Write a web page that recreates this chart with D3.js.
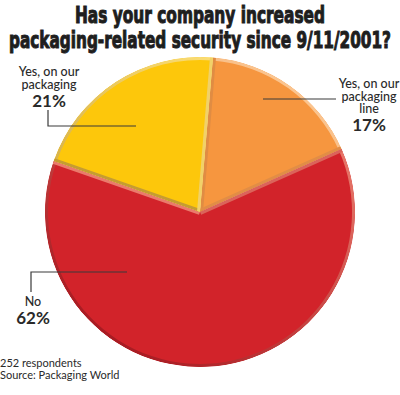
<!DOCTYPE html>
<html>
<head>
<meta charset="utf-8">
<script src="https://cdn.jsdelivr.net/npm/d3@7"></script>
<style>
  body { margin: 0; background: #fff; }
  svg { display: block; }
</style>
</head>
<body>
<svg id="chart" width="400" height="395"></svg>
<script>
// survey answers, clockwise from the top
const categories = ["Yes, on our packaging line", "No", "Yes, on our packaging"];
const values = [17, 62, 21];
const labelLines = [["Yes, on our", "packaging", "line"], ["No"], ["Yes, on our", "packaging"]];
const percentLabels = ["17%", "62%", "21%"];
const titleLines = ["Has your company increased", "packaging-related security since 9/11/2001?"];
const footnotes = ["252 respondents", "Source: Packaging World"];

// look
const baseColors = ["#f6963f", "#d2232a", "#fdc70b"];
const lightColors = ["#fbc590", "#ec7d6e", "#ffe27a"];
const darkColors = ["#d87a2c", "#a81b22", "#c49a30"];

const width = 400, height = 395;
const cx = 200, cy = 212, r = 155;
const start = 4.8 * Math.PI / 180;
const bevel = 3;
const lightDir = [0.6, -0.8];

// annotation layout: text anchor, leader line points (relative to pie center)
const annot = [
  { x: 369, y: 88, lead: [[136, -113], [63, -113]] },
  { x: 33, y: 306, lead: [[-169, 80], [-169, 60], [-73, 60]] },
  { x: 49, y: 76, lead: [[-152, -102], [-152, -86], [-64, -86]] }
];

const svg = d3.select("#chart");
const defs = svg.append("defs");

// title
svg.append("g").selectAll("text")
  .data(titleLines)
  .join("text")
  .attr("x", width / 2)
  .attr("y", (d, i) => 23 + i * 25)
  .attr("text-anchor", "middle")
  .attr("textLength", (d, i) => i == 0 ? 250 : 382)
  .attr("lengthAdjust", "spacingAndGlyphs")
  .style("font-family", "'Liberation Sans Narrow', 'DejaVu Sans Condensed', sans-serif")
  .style("font-weight", "bold")
  .style("font-size", "23px")
  .style("fill", "#1e1e1e")
  .style("stroke", "#1e1e1e")
  .style("stroke-width", 1)
  .text(d => d);

const pie = d3.pie().sort(null).value(d => d)
  .startAngle(start).endAngle(start + 2 * Math.PI);
const arcs = pie(values);
const arc = d3.arc().innerRadius(0).outerRadius(r);
const rim = d3.arc().innerRadius(r - bevel).outerRadius(r);

const shade = (i, nx, ny) => {
  const t = (nx * lightDir[0] + ny * lightDir[1] + 1) / 2;
  return d3.interpolateRgb(darkColors[i], lightColors[i])(t);
};

const pieG = svg.append("g").attr("transform", `translate(${cx},${cy})`);

arcs.forEach((a, i) => {
  defs.append("clipPath").attr("id", "clip" + i)
    .append("path").attr("d", arc(a));

  const grad = defs.append("linearGradient").attr("id", "rim" + i)
    .attr("gradientUnits", "userSpaceOnUse")
    .attr("x1", -r * lightDir[0]).attr("y1", -r * lightDir[1])
    .attr("x2", r * lightDir[0]).attr("y2", r * lightDir[1]);
  grad.append("stop").attr("offset", 0).attr("stop-color", darkColors[i]);
  grad.append("stop").attr("offset", 1).attr("stop-color", lightColors[i]);

  const g = pieG.append("g").attr("clip-path", `url(#clip${i})`);
  g.append("path").attr("d", arc(a)).attr("fill", baseColors[i]);
  g.append("path").attr("d", rim(a)).attr("fill", `url(#rim${i})`);

  // radial bevels, shaded by which way the edge faces
  [[a.startAngle, -1], [a.endAngle, 1]].forEach(([ang, s]) => {
    const nx = s * Math.cos(ang), ny = s * Math.sin(ang);
    g.append("line")
      .attr("x1", 0).attr("y1", 0)
      .attr("x2", r * Math.sin(ang)).attr("y2", -r * Math.cos(ang))
      .attr("stroke", shade(i, nx, ny))
      .attr("stroke-width", bevel * 2);
  });
});

// labels
const labelFont = "'Lato', 'Open Sans', sans-serif";
arcs.forEach((a, i) => {
  const an = annot[i];
  svg.append("path")
    .attr("d", d3.line()(an.lead.map(p => [cx + p[0], cy + p[1]])))
    .attr("fill", "none")
    .attr("stroke", "#3a3a3a")
    .attr("stroke-width", 1.2);

  const t = svg.append("text")
    .attr("x", an.x).attr("y", an.y)
    .attr("text-anchor", "middle")
    .style("font-family", labelFont)
    .style("fill", "#2a2a2a");
  labelLines[i].forEach((line, j) => {
    t.append("tspan").attr("x", an.x).attr("dy", j == 0 ? 0 : 12.5)
      .style("font-size", "12.5px").style("font-weight", 500)
      .text(line);
  });
  t.append("tspan").attr("x", an.x).attr("dy", 18)
    .style("font-size", "17px").style("font-weight", "bold")
    .text(percentLabels[i]);
});

svg.append("g").selectAll("text")
  .data(footnotes)
  .join("text")
  .attr("x", 0)
  .attr("y", (d, i) => 367 + i * 12)
  .style("font-family", labelFont)
  .style("font-size", "11px")
  .style("fill", "#2a2a2a")
  .text(d => d);
</script>
</body>
</html>
